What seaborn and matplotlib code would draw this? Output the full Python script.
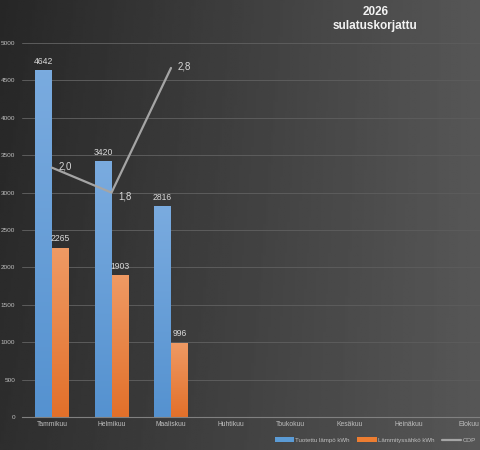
import numpy as np
import pandas as pd
import seaborn as sns
import matplotlib.pyplot as plt
from matplotlib.patches import Patch
from matplotlib.lines import Line2D

# data
months = ['Tammikuu', 'Helmikuu', 'Maaliskuu', 'Huhtikuu', 'Toukokuu', 'Kesäkuu', 'Heinäkuu', 'Elokuu']
heat_kwh = [4642, 3420, 2816, np.nan, np.nan, np.nan, np.nan, np.nan]
elec_kwh = [2265, 1903, 996, np.nan, np.nan, np.nan, np.nan, np.nan]
cop = [2.0, 1.8, 2.8]
cop_labels = ['2,0', '1,8', '2,8']
series_names = ['Tuotettu lämpö kWh', 'Lämmityssähkö kWh', 'COP']

blue = '#5b9bd5'
orange = '#ed7d31'
grey_line = '#a5a5a5'
txt = '#d9d9d9'

sns.set_style('white')
plt.rcParams['font.family'] = ['Liberation Sans', 'DejaVu Sans']

df = pd.DataFrame({
    'month': months * 2,
    'kwh': heat_kwh + elec_kwh,
    'series': [series_names[0]] * len(months) + [series_names[1]] * len(months),
})

fig = plt.figure(figsize=(4.81, 4.5), dpi=100)

# dark gradient background
bg = fig.add_axes([0, 0, 1, 1], zorder=-1)
xx, yy = np.meshgrid(np.linspace(0, 1, 200), np.linspace(0, 1, 200))
vals = 0.15 + 0.19 * xx + 0.03 * yy * (1 - xx)
bg.imshow(vals, cmap='gray', vmin=0, vmax=1, extent=(0, 1, 0, 1), aspect='auto', origin='upper')
bg.axis('off')

ax = fig.add_axes([0.0463, 0.0733, 0.9537, 0.8311])
ax.set_facecolor('none')

sns.barplot(data=df, x='month', y='kwh', hue='series', palette=[blue, orange],
            width=0.57, gap=0, ax=ax, legend=False, saturation=1, errorbar=None,
            linewidth=0, edgecolor='none')

# gradient fill on bars
light = {blue: '#7aabdf', orange: '#ef9a64'}
dark = {blue: '#5592d0', orange: '#e2702a'}
for cont, base in zip(ax.containers, [blue, orange]):
    for p in cont.patches:
        h = p.get_height()
        if not np.isfinite(h) or h <= 0:
            continue
        cm = sns.blend_palette([dark[base], light[base]], as_cmap=True)
        grad = np.linspace(0, 1, 100).reshape(-1, 1)
        im = ax.imshow(grad, cmap=cm, origin='lower', aspect='auto',
                       extent=(p.get_x(), p.get_x() + p.get_width(), 0, h), zorder=2)
        im.set_clip_path(p)
    ax.bar_label(cont, labels=[f'{int(v)}' if np.isfinite(v) else '' for v in cont.datavalues],
                 padding=3, color=txt, fontsize=6.2)

ax.set_xlim(-0.5, 7.21)
ax.set_ylim(0, 5000)
ax.set_yticks(range(0, 5001, 500))
ax.grid(axis='y', color='#5c5c5c', linewidth=0.7)
ax.set_axisbelow(True)
for s in ['top', 'right', 'left']:
    ax.spines[s].set_visible(False)
ax.spines['bottom'].set_color('#808080')
ax.spines['bottom'].set_linewidth(0.8)
ax.tick_params(axis='y', length=0, pad=5, labelsize=4.6, labelcolor='#bfbfbf')
ax.tick_params(axis='x', length=0, pad=3, labelsize=4.9, labelcolor='#bfbfbf')
ax.set_xlabel('')
ax.set_ylabel('')

# COP on hidden secondary axis
ax2 = ax.twinx()
cop_df = pd.DataFrame({'x': range(len(cop)), 'cop': cop})
sns.lineplot(data=cop_df, x='x', y='cop', color=grey_line, linewidth=1.6, ax=ax2)
ax2.set_ylim(0, 3)
ax2.set_xlim(-0.5, 7.21)
ax2.axis('off')
for i, (v, lab) in enumerate(zip(cop, cop_labels)):
    dy = -3 if i == 1 else 1
    ax2.annotate(lab, (i, v), xytext=(5, dy), textcoords='offset points',
                 va='center', ha='left', color=txt, fontsize=6.9)

fig.text(0.78, 0.973, '2026', ha='center', va='center', color='#f2f2f2',
         fontsize=8.5, fontweight='bold')
fig.text(0.78, 0.942, 'sulatuskorjattu', ha='center', va='center', color='#f2f2f2',
         fontsize=8.5, fontweight='bold')

handles = [Patch(facecolor=blue, edgecolor='none'), Patch(facecolor=orange, edgecolor='none'),
           Line2D([0], [0], color=grey_line, linewidth=1.6)]
fig.legend(handles, series_names, loc='center', bbox_to_anchor=(0.78, 0.022), ncol=3,
           frameon=False, fontsize=4.4, labelcolor='#bfbfbf', handlelength=3.2,
           handleheight=0.7, handletextpad=0.2, columnspacing=1.2)

fig.savefig('out.png', dpi=100)
